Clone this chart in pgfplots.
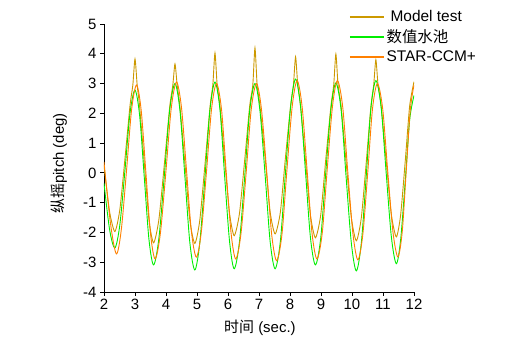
\documentclass[border=0pt]{standalone}
\usepackage{fontspec}
\setmainfont{Liberation Sans}
\newfontfamily\cjk{Noto Sans CJK SC}
\usepackage{pgfplots}
\pgfplotsset{compat=1.18}
\definecolor{modelc}{RGB}{204,153,0}
\definecolor{greenc}{RGB}{0,238,0}
\definecolor{orangec}{RGB}{255,128,0}
\begin{document}
\begin{tikzpicture}
\path[use as bounding box] (0,0) rectangle (505bp,351bp);
\begin{axis}[
  at={(104bp,59bp)}, anchor=south west,
  scale only axis, width=310bp, height=268bp,
  xmin=2, xmax=12, ymin=-4, ymax=5,
  xtick={2,3,...,12}, ytick={-4,-3,...,5},
  axis x line=bottom, axis y line=left,
  axis line style={-, line width=0.8bp},
  tick align=outside, major tick length=4bp,
  tick style={line width=0.8bp, black},
  /pgf/number format/assume math mode=true,
  ticklabel style={font=\fontsize{15}{17}\selectfont},
  xlabel={{\cjk 时间} (sec.)},
  ylabel={{\cjk 纵摇}pitch (deg)},
  label style={font=\fontsize{15}{17}\selectfont},
  xlabel style={at={(axis description cs:0.503,-0.134)}, anchor=center},
  ylabel style={at={(axis description cs:-0.145,0.48)}, anchor=center},
  legend style={at={(axis description cs:0.79,1.058)}, anchor=north west, draw=none, fill=none,
    font=\fontsize{15.5}{17}\selectfont, inner sep=0pt, row sep=2.5bp,
    cells={anchor=west}},
  legend image code/.code={\draw[#1, line width=1.5bp] (0bp,0bp) -- (34bp,0bp);},
  every axis plot/.append style={line width=0.9bp},
]
\addplot[draw=modelc, smooth, tension=0.4] coordinates {
(2.0,0.25) (2.18,-1.3) (2.35,-1.97)
(2.51,-1.24) (2.68,0.52) (2.84,2.27) (2.93,2.95) (3.0,3.83) (3.07,2.95)
(3.15,2.22) (3.3,0.33) (3.45,-1.57) (3.6,-2.35)
(3.77,-1.57) (3.95,0.33) (4.12,2.22) (4.22,2.95) (4.29,3.66) (4.36,2.95)
(4.45,2.22) (4.61,0.32) (4.77,-1.59) (4.93,-2.37)
(5.09,-1.59) (5.26,0.32) (5.42,2.22) (5.51,2.95) (5.58,4.03) (5.65,2.95)
(5.74,2.25) (5.89,0.45) (6.05,-1.36) (6.2,-2.11)
(6.37,-1.36) (6.54,0.45) (6.70,2.25) (6.80,2.95) (6.87,4.2) (6.94,2.95)
(7.03,2.26) (7.20,0.48) (7.36,-1.31) (7.52,-2.05)
(7.69,-1.31) (7.85,0.48) (8.02,2.26) (8.11,2.95) (8.18,3.9) (8.25,2.95)
(8.34,2.24) (8.50,0.41) (8.66,-1.42) (8.82,-2.18)
(8.99,-1.42) (9.15,0.41) (9.32,2.24) (9.41,2.95) (9.48,3.99) (9.55,2.95)
(9.65,2.23) (9.81,0.36) (9.98,-1.51) (10.14,-2.28)
(10.30,-1.51) (10.46,0.36) (10.61,2.23) (10.70,2.95) (10.77,3.8) (10.84,2.95)
(10.94,2.25) (11.10,0.43) (11.27,-1.40) (11.43,-2.15)
(11.57,-1.40) (11.72,0.43) (11.86,2.25) (12.0,3.06)
};
\addlegendentry{\hspace{4bp}Model test}
\addplot[draw=greenc, smooth, tension=0.5] coordinates {
(2.0,-0.35) (2.18,-1.9) (2.35,-2.52) (2.51,-1.75) (2.68,0.13) (2.84,2.01) (3.0,2.78)
(3.15,1.92) (3.3,-0.16) (3.45,-2.23) (3.6,-3.09) (3.77,-2.20) (3.95,-0.05) (4.12,2.11) (4.29,3.0)
(4.45,2.09) (4.61,-0.13) (4.77,-2.35) (4.93,-3.26) (5.09,-2.34) (5.26,-0.11) (5.42,2.13) (5.58,3.05)
(5.74,2.13) (5.89,-0.09) (6.05,-2.30) (6.2,-3.22) (6.37,-2.31) (6.54,-0.11) (6.70,2.09) (6.87,3.0)
(7.03,2.09) (7.20,-0.11) (7.36,-2.31) (7.52,-3.22) (7.69,-2.29) (7.85,-0.04) (8.02,2.22) (8.18,3.15)
(8.34,2.24) (8.50,0.03) (8.66,-2.18) (8.82,-3.09) (8.99,-2.20) (9.15,-0.04) (9.32,2.13) (9.48,3.02)
(9.65,2.10) (9.81,-0.14) (9.98,-2.37) (10.14,-3.29) (10.30,-2.36) (10.46,-0.10) (10.61,2.17) (10.77,3.1)
(10.94,2.20) (11.10,0.03) (11.27,-2.15) (11.43,-3.05) (11.57,-2.23) (11.72,-0.23) (11.86,1.78) (12.0,2.6)
};
\addlegendentry{{\cjk 数值水池}}
\addplot[draw=orangec, smooth, tension=0.5] coordinates {
(2.0,0.37) (2.21,-1.7) (2.40,-2.72) (2.56,-1.89) (2.73,0.12) (2.89,2.12) (3.05,2.95)
(3.20,2.10) (3.35,0.03) (3.50,-2.04) (3.65,-2.89) (3.82,-2.02) (4.00,0.08) (4.17,2.18) (4.34,3.05)
(4.50,2.19) (4.66,0.11) (4.82,-1.97) (4.98,-2.83) (5.14,-1.98) (5.31,0.09) (5.47,2.15) (5.63,3.0)
(5.79,2.14) (5.94,0.06) (6.10,-2.03) (6.25,-2.89) (6.42,-2.03) (6.59,0.06) (6.75,2.14) (6.92,3.0)
(7.08,2.13) (7.25,0.03) (7.41,-2.08) (7.57,-2.95) (7.74,-2.07) (7.90,0.08) (8.07,2.22) (8.23,3.1)
(8.39,2.23) (8.55,0.11) (8.71,-2.02) (8.87,-2.89) (9.04,-2.02) (9.20,0.11) (9.37,2.23) (9.53,3.1)
(9.70,2.22) (9.86,0.09) (10.03,-2.04) (10.19,-2.92) (10.35,-2.06) (10.51,0.04) (10.66,2.14) (10.82,3.0)
(10.99,2.15) (11.15,0.09) (11.32,-1.97) (11.48,-2.82) (11.62,-1.98) (11.75,0.07) (11.88,2.11) (12.0,2.95)
};
\addlegendentry{STAR-CCM+}
\end{axis}
\end{tikzpicture}
\end{document}
